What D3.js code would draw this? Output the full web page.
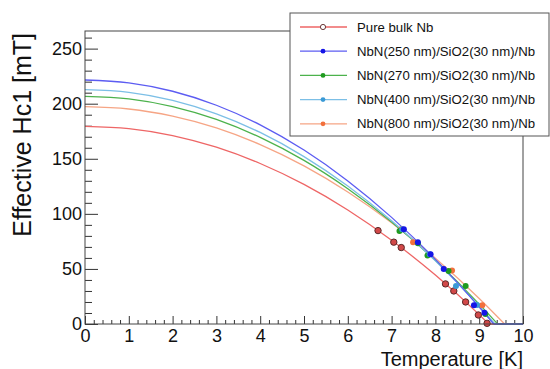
<!DOCTYPE html>
<html>
<head>
<meta charset="utf-8">
<script src="https://cdn.jsdelivr.net/npm/d3@7"></script>
<style>
  body { margin: 0; background: #fff; }
  svg text { font-family: "Liberation Sans", Arial, Helvetica, sans-serif; fill: #111; }
</style>
</head>
<body>
<div id="chart"></div>
<script>
// data
var seriesNames = ["Pure bulk Nb", "NbN(250 nm)/SiO2(30 nm)/Nb", "NbN(270 nm)/SiO2(30 nm)/Nb",
  "NbN(400 nm)/SiO2(30 nm)/Nb", "NbN(800 nm)/SiO2(30 nm)/Nb"];

// fit curves: temperature [K] and Hc1 [mT]
var curveT = [0, 1, 2, 3, 4, 5, 6, 7, 8, 9];
var tcValues = [9.22, 9.33, 9.42, 9.36, 9.58];
var curveNb = [179.5, 177.4, 171.1, 160.5, 145.7, 126.7, 103.5, 76.0, 44.4, 8.5];
var curve250 = [221.5, 218.9, 211.3, 198.6, 180.8, 157.9, 129.9, 96.8, 58.7, 15.4];
var curve270 = [206.7, 204.4, 197.4, 185.7, 169.4, 148.5, 122.8, 92.6, 57.6, 18.0];
var curve400 = [212.7, 210.3, 203.0, 190.8, 173.9, 152.0, 125.3, 93.7, 57.3, 16.1];
var curve800 = [197.3, 195.2, 188.7, 178.0, 162.9, 143.6, 119.9, 92.0, 59.7, 23.2];

// measured points
var ptsNbT = [6.69, 7.05, 7.22, 8.23, 8.42, 8.69, 8.98, 9.18];
var ptsNbH = [84.8, 74.3, 69.4, 36.4, 30.0, 20.0, 8.2, 0.6];
var pts250T = [7.28, 7.60, 7.89, 8.19, 8.88, 9.12];
var pts250H = [86.0, 74.3, 63.4, 50.0, 17.0, 10.3];
var pts270T = [7.18, 7.60, 7.82, 8.30, 8.69, 9.14];
var pts270H = [84.5, 73.3, 62.1, 48.2, 34.5, 9.1];
var pts400T = [7.24, 7.87, 8.47, 8.95];
var pts400H = [86.0, 63.4, 34.5, 17.3];
var pts800T = [7.22, 7.49, 8.38, 9.07];
var pts800H = [86.0, 74.3, 48.5, 17.0];

var xTicks = [0, 1, 2, 3, 4, 5, 6, 7, 8, 9, 10];
var yTicks = [0, 50, 100, 150, 200, 250];

var lineColors = ["#ee6666", "#5c5cf2", "#4cb24c", "#7cbfe6", "#f6a585"];
var dotColors = ["#d24848", "#1515e6", "#1f9a1f", "#3a9ad6", "#f2703c"];

var curves = [curveNb, curve250, curve270, curve400, curve800];
var ptsT = [ptsNbT, pts250T, pts270T, pts400T, pts800T];
var ptsH = [ptsNbH, pts250H, pts270H, pts400H, pts800H];

var svgWidth = 550, svgHeight = 369;
var margin = { top: 31, bottom: 45, left: 85, right: 27 };
var width = svgWidth - margin.left - margin.right;   // 438
var height = svgHeight - margin.top - margin.bottom; // 293

var svg = d3.select("#chart").append("svg")
  .attr("width", svgWidth)
  .attr("height", svgHeight);

var g = svg.append("g")
  .attr("transform", `translate(${margin.left}, ${margin.top})`);

var x = d3.scaleLinear().domain([0, 10]).range([0, width]);
var y = d3.scaleLinear().domain([0, 266]).range([height, 0]);

// minor ticks
var xMinor = d3.range(0, 10.01, 0.2).filter(v => Math.abs(v - Math.round(v)) > 1e-6);
var yMinor = d3.range(0, 261, 10).filter(v => v % 50 !== 0);

g.append("g")
  .attr("transform", `translate(0, ${height})`)
  .call(d3.axisBottom(x).tickValues(xMinor).tickSize(-4).tickFormat(""))
  .call(a => a.select(".domain").remove());
g.append("g")
  .call(d3.axisLeft(y).tickValues(yMinor).tickSize(-7).tickFormat(""))
  .call(a => a.select(".domain").remove());

var xAxis = g.append("g")
  .attr("transform", `translate(0, ${height})`)
  .call(d3.axisBottom(x).tickValues(xTicks).tickSize(-8).tickPadding(5).tickFormat(d3.format("d")));
xAxis.select(".domain").remove();
xAxis.selectAll("text").attr("font-size", 18);

var yAxis = g.append("g")
  .call(d3.axisLeft(y).tickValues(yTicks).tickSize(-13).tickPadding(3).tickFormat(d3.format("d")));
yAxis.select(".domain").remove();
yAxis.selectAll("text").attr("font-size", 18);

g.selectAll(".tick line").attr("stroke", "#333");

// fit curves
var line = d3.line()
  .x(d => x(d[0]))
  .y(d => y(d[1]))
  .curve(d3.curveMonotoneX);

var plotOrder = [0, 4, 2, 3, 1];
plotOrder.forEach(function (i) {
  var pts = curveT.map((t, k) => [t, curves[i][k]]);
  pts.push([tcValues[i], 0]);
  g.append("path")
    .attr("d", line(pts))
    .attr("fill", "none")
    .attr("stroke", lineColors[i])
    .attr("stroke-width", 1.3);
  g.append("path")
    .attr("d", d3.line().x(d => x(d[0])).y(d => y(d[1]))([[tcValues[i], 0], [10, 0]]))
    .attr("fill", "none")
    .attr("stroke", lineColors[i])
    .attr("stroke-width", 1.3);
});

// data points
plotOrder.forEach(function (i) {
  var data = ptsT[i].map((t, k) => [t, ptsH[i][k]]);
  g.selectAll(null)
    .data(data)
    .enter()
    .append("circle")
    .attr("cx", d => x(d[0]))
    .attr("cy", d => y(d[1]))
    .attr("r", i === 0 ? 3.2 : 3)
    .attr("fill", dotColors[i])
    .attr("stroke", i === 0 ? "#5a2a2a" : "none")
    .attr("stroke-width", 1);
});

// frame
g.append("rect")
  .attr("width", width)
  .attr("height", height)
  .attr("fill", "none")
  .attr("stroke", "#444")
  .attr("stroke-width", 1);

// axis titles
g.append("text")
  .attr("transform", `translate(${width}, ${height + 42})`)
  .attr("text-anchor", "end")
  .attr("font-size", 20)
  .text("Temperature [K]");

g.append("text")
  .attr("transform", "rotate(-90)")
  .attr("x", -2)
  .attr("y", -54)
  .attr("text-anchor", "end")
  .attr("font-size", 25)
  .text("Effective Hc1 [mT]");

// legend
var legend = svg.append("g").attr("transform", "translate(290, 13)");
legend.append("rect")
  .attr("width", 259)
  .attr("height", 123)
  .attr("fill", "#fff")
  .attr("stroke", "#555")
  .attr("stroke-width", 1);

var rows = legend.selectAll(null)
  .data(seriesNames)
  .enter().append("g")
  .attr("transform", (d, i) => `translate(0, ${14 + i * 24.2})`);

rows.append("line")
  .attr("x1", 10).attr("x2", 57)
  .attr("stroke", (d, i) => lineColors[i])
  .attr("stroke-width", 1.3);
rows.append("circle")
  .attr("cx", 33)
  .attr("r", (d, i) => i === 0 ? 2.6 : 2.4)
  .attr("fill", (d, i) => i === 0 ? "#fff" : dotColors[i])
  .attr("stroke", (d, i) => i === 0 ? "#6a3a3a" : "none");
rows.append("text")
  .attr("x", 67)
  .attr("y", 4.6)
  .attr("font-size", 13.2)
  .text(d => d);
</script>
</body>
</html>
